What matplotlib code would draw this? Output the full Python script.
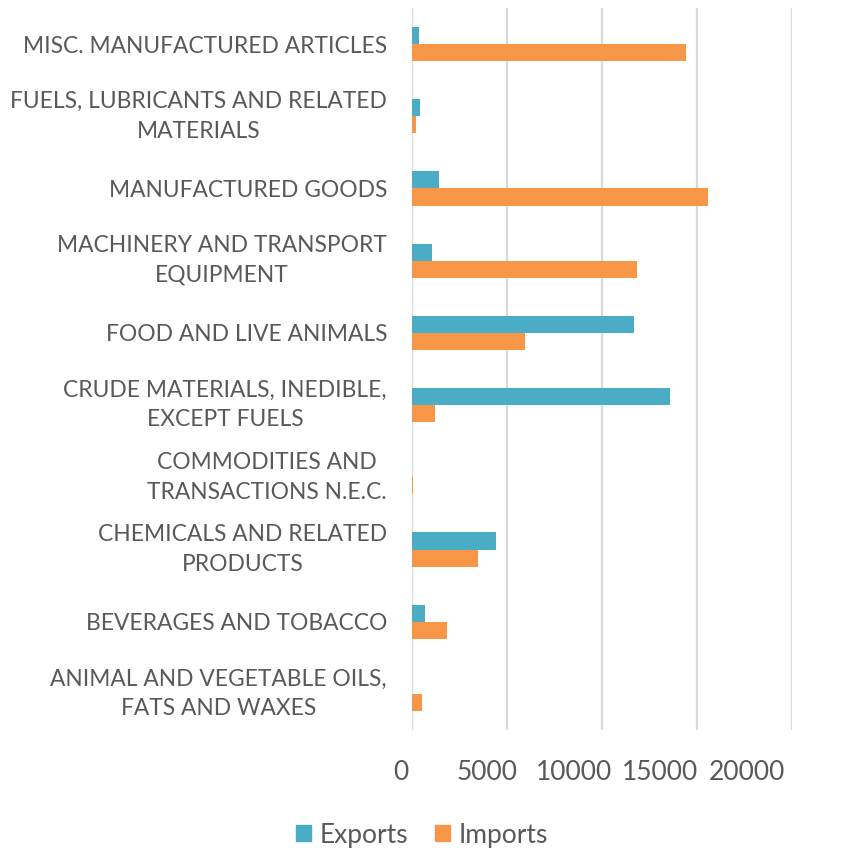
import matplotlib
matplotlib.use("Agg")
import matplotlib.pyplot as plt
import matplotlib.transforms as mtransforms
from matplotlib.patches import Patch
import numpy as np

# categories listed bottom to top
categories = [
    "ANIMAL AND VEGETABLE OILS,\nFATS AND WAXES",
    "BEVERAGES AND TOBACCO",
    "CHEMICALS AND RELATED\nPRODUCTS",
    "COMMODITIES AND\nTRANSACTIONS N.E.C.",
    "CRUDE MATERIALS, INEDIBLE,\nEXCEPT FUELS",
    "FOOD AND LIVE ANIMALS",
    "MACHINERY AND TRANSPORT\nEQUIPMENT",
    "MANUFACTURED GOODS",
    "FUELS, LUBRICANTS AND RELATED\nMATERIALS",
    "MISC. MANUFACTURED ARTICLES",
]
exports = [10, 680, 4400, 20, 13560, 11680, 1035, 1440, 420, 370]
imports = [530, 1840, 3460, 60, 1190, 5930, 11840, 15600, 190, 14440]
xticks = [0, 5000, 10000, 15000, 20000]

EXP_COLOR = "#4BACC6"
IMP_COLOR = "#F79646"
TEXT_COLOR = "#595959"
FONT = ["Lato", "DejaVu Sans"]

plt.rcParams["font.family"] = FONT

fig = plt.figure(figsize=(8.5, 8.51), dpi=100)
ax = fig.add_axes([412 / 850, 1 - 730 / 851, 380 / 850, 722 / 851])

y = np.arange(len(categories))
h = 0.238
ax.barh(y + h / 2, exports, height=h, color=EXP_COLOR, zorder=3)
ax.barh(y - h / 2, imports, height=h, color=IMP_COLOR, zorder=3)

ax.set_xlim(0, 20000)
ax.set_ylim(-0.5, len(categories) - 0.5)
ax.set_xticks(xticks)
ax.xaxis.grid(True, color="#D9D9D9", linewidth=1.6, zorder=0)
ax.set_axisbelow(True)
for s in ax.spines.values():
    s.set_visible(False)
ax.tick_params(length=0)
ax.set_xticklabels([])

ax.set_yticks(y)
ax.set_yticklabels(categories, fontsize=16.4, color=TEXT_COLOR,
                   multialignment="center", linespacing=1.5)
for lbl in ax.get_yticklabels():
    if "\n" in lbl.get_text():
        lbl.set_va("center")
ax.tick_params(axis="y", pad=18)

# x tick labels, drawn slightly compressed like the source image
trans = mtransforms.blended_transform_factory(ax.transData, fig.transFigure)
for v in xticks:
    ax.text(v * 0.9105 - 580, 1 - 773 / 851, str(v), transform=trans,
            ha="center", va="center", fontsize=19, color=TEXT_COLOR)

handles = [Patch(color=EXP_COLOR, label="Exports"),
           Patch(color=IMP_COLOR, label="Imports")]
fig.legend(handles=handles, loc="center", bbox_to_anchor=(422 / 850, 1 - 835 / 851),
           ncol=2, frameon=False, fontsize=19, labelcolor=TEXT_COLOR,
           handlelength=0.57, handleheight=0.57, handletextpad=0.35, columnspacing=1.0)

fig.savefig("out.png", dpi=100)
